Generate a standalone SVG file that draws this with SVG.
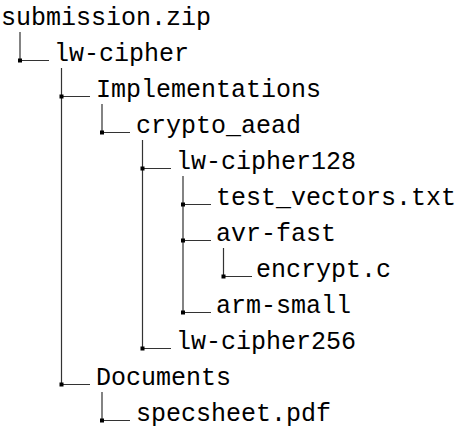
<svg xmlns="http://www.w3.org/2000/svg" width="459" height="430" viewBox="0 0 459 430">
  <style>
    text { font-family: "Liberation Mono", "DejaVu Sans Mono", monospace; font-size: 25px; fill: #000; }
    .ln { stroke: #333; stroke-width: 1.2; fill: none; }
    .dot { fill: #000; }
  </style>
  <rect width="459" height="430" fill="#fff"/>
  <g id="connectors">
    <path class="ln" d="M20,32 V60.5 H49"/>
    <path class="ln" d="M61.5,68 V384.5 M61.5,96.5 H90 M61.5,384.5 H90"/>
    <path class="ln" d="M102,104 V132.5 H130"/>
    <path class="ln" d="M142.5,140 V348.5 M142.5,168.5 H171 M142.5,348.5 H171"/>
    <path class="ln" d="M183,176 V312.5 M183,204.5 H211 M183,240.5 H211 M183,312.5 H211"/>
    <path class="ln" d="M223.5,248 V276.5 H252"/>
    <path class="ln" d="M102,392 V420.5 H130"/>
    <g class="dot">
      <rect x="18" y="58.5" width="4" height="4"/>
      <rect x="59.5" y="94.5" width="4" height="4"/>
      <rect x="100" y="130.5" width="4" height="4"/>
      <rect x="140.5" y="166.5" width="4" height="4"/>
      <rect x="181" y="202.5" width="4" height="4"/>
      <rect x="181" y="238.5" width="4" height="4"/>
      <rect x="221.5" y="274.5" width="4" height="4"/>
      <rect x="181" y="310.5" width="4" height="4"/>
      <rect x="140.5" y="346.5" width="4" height="4"/>
      <rect x="59.5" y="382.5" width="4" height="4"/>
      <rect x="100" y="418.5" width="4" height="4"/>
    </g>
  </g>
  <g id="n-root"><text x="1" y="25">submission.zip</text></g>
  <g id="n-lwcipher"><text x="54" y="61">lw-cipher</text></g>
  <g id="n-impl"><text x="96" y="97">Implementations</text></g>
  <g id="n-crypto"><text x="136" y="133">crypto_aead</text></g>
  <g id="n-lw128"><text x="176" y="169">lw-cipher128</text></g>
  <g id="n-test"><text x="216" y="205">test_vectors.txt</text></g>
  <g id="n-avr"><text x="216" y="241">avr-fast</text></g>
  <g id="n-encrypt"><text x="256" y="277">encrypt.c</text></g>
  <g id="n-arm"><text x="216" y="313">arm-small</text></g>
  <g id="n-lw256"><text x="176" y="349">lw-cipher256</text></g>
  <g id="n-docs"><text x="96" y="385">Documents</text></g>
  <g id="n-spec"><text x="136" y="421">specsheet.pdf</text></g>
</svg>
